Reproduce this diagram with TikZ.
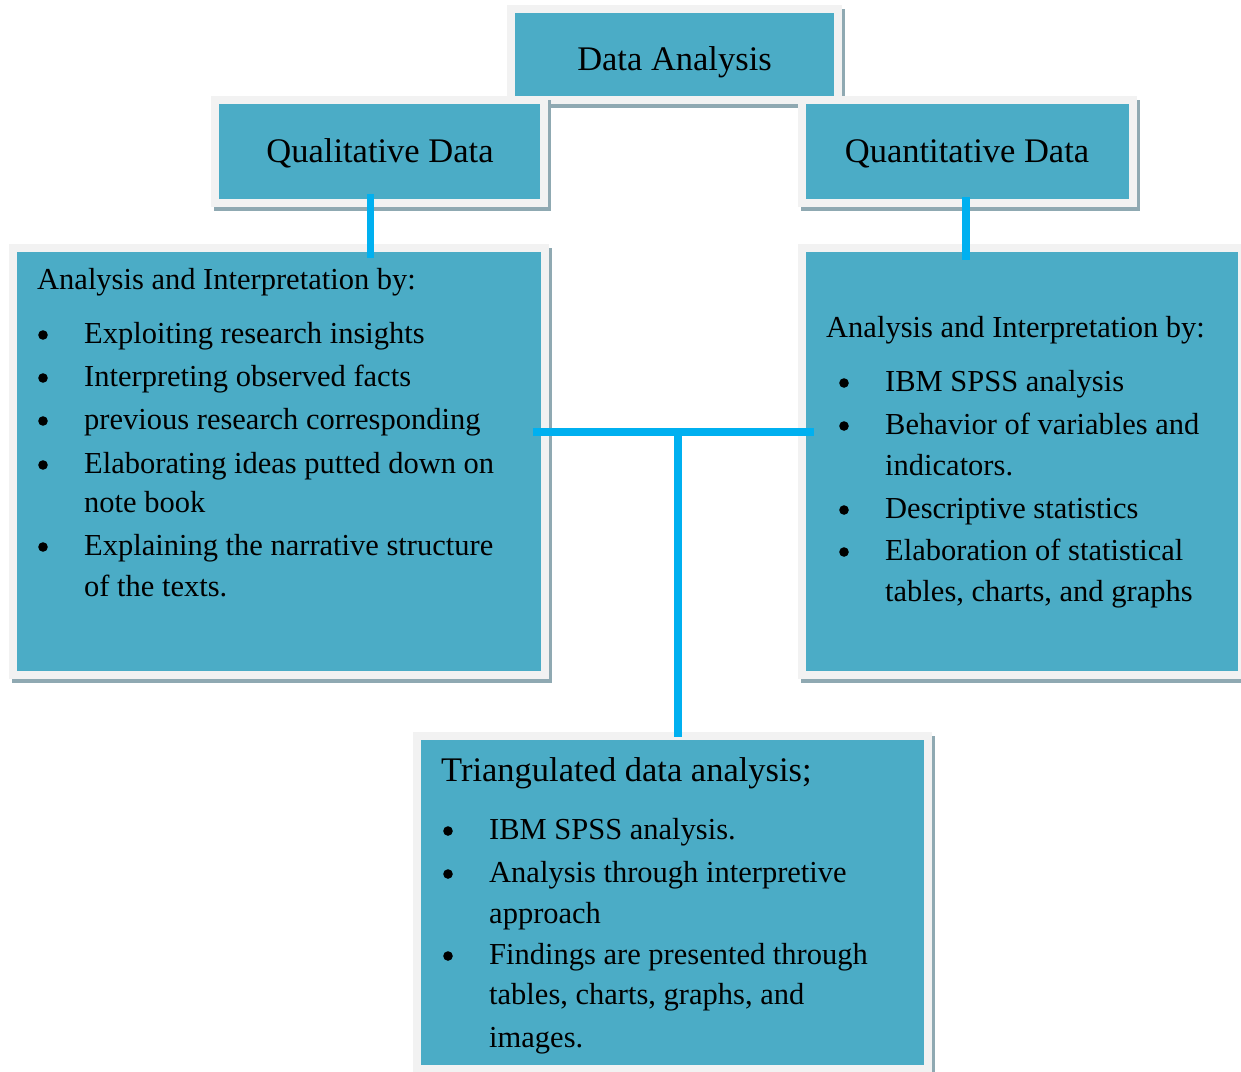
\documentclass[tikz,border=0pt]{standalone}
\usepackage{fontspec}
\setmainfont{Liberation Serif}
\usetikzlibrary{calc}

\definecolor{boxfill}{HTML}{4BACC6}
\definecolor{boxframe}{HTML}{F2F2F2}
\definecolor{boxshade}{HTML}{8FA9B2}
\definecolor{linkcol}{HTML}{00B0F0}

\tikzset{
  panel/.style={rectangle, fill=boxfill, draw=boxframe, line width=8pt, inner sep=0pt},
  link/.style={draw=linkcol, line width=7.5pt},
  headtxt/.style={inner sep=0pt, anchor=base, font=\fontsize{34.5}{40}\selectfont},
  bodytxt/.style={inner sep=0pt, anchor=base west, font=\fontsize{30.5}{36}\selectfont},
  bighead/.style={inner sep=0pt, anchor=base west, font=\fontsize{34.5}{40}\selectfont},
}

% framed panel with a drop shadow; arguments: name, outer corners x1 y1 x2 y2
\newcommand\panelbox[5]{%
  \fill[boxshade] ($(#2,#3)+(3,4)$) rectangle ($(#4,#5)+(3,4)$);
  \node[panel, minimum width={#4-#2-8}, minimum height={#5-#3-8}]
    (#1) at ({(#2+#4)/2},{(#3+#5)/2}) {};
}
% one line of body text: name, x, baseline, text
\newcommand\tline[4]{\node[bodytxt] (#1) at (#2,#3) {#4};}
% bullet mark: x, baseline
\newcommand\bulmark[2]{\fill (#1,#2-8) circle[radius=4.8pt];}

\begin{document}
\begin{tikzpicture}[x=1pt,y=-1pt]
\useasboundingbox (0,0) rectangle (1241,1071);

% panels
\panelbox{top}{507}{5}{842}{104}
\panelbox{qual}{211}{96}{548}{207}
\panelbox{quant}{798}{96}{1137}{207}
\panelbox{lbox}{9}{244}{549}{679}
\panelbox{rbox}{798}{244}{1246}{679}
\panelbox{tbox}{413}{732}{932}{1073}

% titles
\node[headtxt] (toptitle) at (674.5,70) {Data Analysis};
\node[headtxt] (qualtitle) at (380,162) {Qualitative Data};
\node[headtxt] (quanttitle) at (967,162) {Quantitative Data};

% qualitative analysis
\tline{l0}{37}{289}{Analysis and Interpretation by:}
\bulmark{43}{343}\tline{l1}{84}{343}{Exploiting research insights}
\bulmark{43}{386}\tline{l2}{84}{386}{Interpreting observed facts}
\bulmark{43}{429}\tline{l3}{84}{429}{previous research corresponding}
\bulmark{43}{473}\tline{l4}{84}{473}{Elaborating ideas putted down on}
\tline{l4b}{84}{512}{note book}
\bulmark{43}{555}\tline{l5}{84}{555}{Explaining the narrative structure}
\tline{l5b}{84}{596}{of the texts.}

% quantitative analysis
\tline{r0}{826}{337}{Analysis and Interpretation by:}
\bulmark{844}{391}\tline{r1}{885}{391}{IBM SPSS analysis}
\bulmark{844}{434}\tline{r2}{885}{434}{Behavior of variables and}
\tline{r2b}{885}{475}{indicators.}
\bulmark{844}{518}\tline{r3}{885}{518}{Descriptive statistics}
\bulmark{844}{560}\tline{r4}{885}{560}{Elaboration of statistical}
\tline{r4b}{885}{601}{tables, charts, and graphs}

% triangulation
\node[bighead] (t0) at (441,781) {Triangulated data analysis;};
\bulmark{448}{839}\tline{t1}{489}{839}{IBM SPSS analysis.}
\bulmark{448}{882}\tline{t2}{489}{882}{Analysis through interpretive}
\tline{t2b}{489}{923}{approach}
\bulmark{448}{964}\tline{t3}{489}{964}{Findings are presented through}
\tline{t3b}{489}{1004}{tables, charts, graphs, and}
\tline{t3c}{489}{1047}{images.}

% connectors
\coordinate (hub) at (678,432);
\draw[link] ([shift={(-9,-13)}]qual.south) coordinate (qa)
  -- ($(qa |- lbox.north)+(0,14)$);
\draw[link] ([shift={(-1.5,-10)}]quant.south) coordinate (qb)
  -- ($(qb |- rbox.north)+(0,16)$);
\draw[link] ($(lbox.east |- hub)+(-16,0)$) -- ($(rbox.west |- hub)+(16,0)$);
\draw[link] (hub) -- ($(hub |- tbox.north)+(0,5)$);
\end{tikzpicture}
\end{document}
